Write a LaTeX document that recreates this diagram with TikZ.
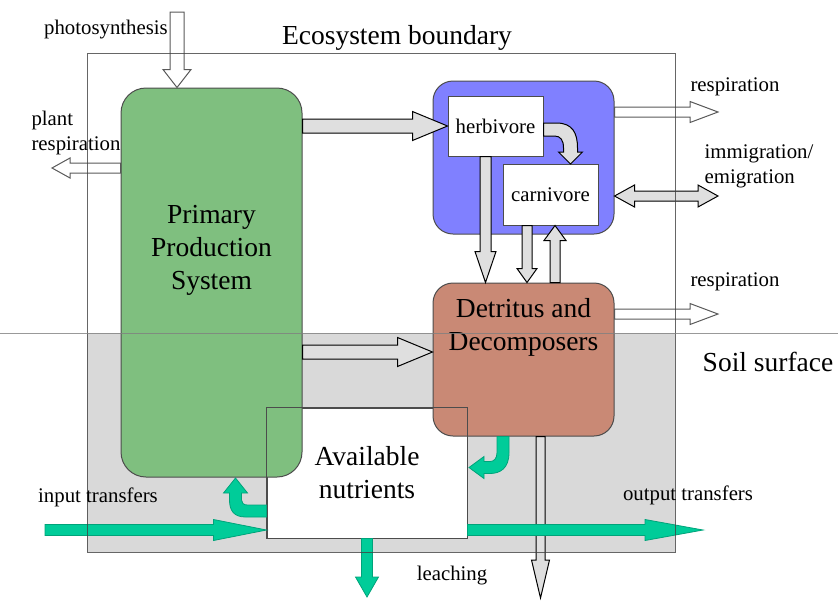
\documentclass[tikz,border=0pt]{standalone}
\usepackage{fontspec}
\setmainfont{Liberation Serif}
\usetikzlibrary{calc}

\definecolor{plantgreen}{RGB}{127,191,127}
\definecolor{consblue}{RGB}{128,128,255}
\definecolor{detbrown}{RGB}{201,137,117}
\definecolor{soilgrey}{RGB}{217,217,217}
\definecolor{flowteal}{RGB}{0,204,153}

\tikzset{
	fat/.style n args={3}{to path={
		let \p1=(\tikztostart), \p2=(\tikztotarget),
			\n1={atan2(\y2-\y1,\x2-\x1)} in
		($(\p1)+(\n1+90:#1)$) -- ($(\p2)+(\n1:-#3)+(\n1+90:#1)$)
		-- ($(\p2)+(\n1:-#3)+(\n1+90:#2)$) -- (\p2)
		-- ($(\p2)+(\n1:-#3)+(\n1-90:#2)$) -- ($(\p2)+(\n1:-#3)+(\n1-90:#1)$)
		-- ($(\p1)+(\n1-90:#1)$) -- cycle}},
	fatboth/.style n args={3}{to path={
		let \p1=(\tikztostart), \p2=(\tikztotarget),
			\n1={atan2(\y2-\y1,\x2-\x1)} in
		(\p1) -- ($(\p1)+(\n1:#3)+(\n1+90:#2)$) -- ($(\p1)+(\n1:#3)+(\n1+90:#1)$)
		-- ($(\p2)+(\n1:-#3)+(\n1+90:#1)$) -- ($(\p2)+(\n1:-#3)+(\n1+90:#2)$) -- (\p2)
		-- ($(\p2)+(\n1:-#3)+(\n1-90:#2)$) -- ($(\p2)+(\n1:-#3)+(\n1-90:#1)$)
		-- ($(\p1)+(\n1:#3)+(\n1-90:#1)$) -- ($(\p1)+(\n1:#3)+(\n1-90:#2)$) -- cycle}},
	greyarrow/.style={draw=black, line width=0.5pt, fill=gray!25},
	hollowarrow/.style={draw=gray!70!black, line width=0.5pt, fill=white},
	tealarrow/.style={draw=flowteal!80!black, line width=0.4pt, fill=flowteal},
	box/.style={draw=gray!60!black, line width=0.5pt, inner sep=0pt},
	bigtxt/.style={font=\fontsize{13.75}{16.5}\selectfont, align=center},
	smalltxt/.style={font=\fontsize{10.4}{12.5}\selectfont, align=left},
}

\begin{document}
\begin{tikzpicture}[x=0.5pt, y=-0.5pt]
			\useasboundingbox (0,0) rectangle (838,600);
			\fill[soilgrey] (87,333) rectangle (675,552);

			% compartments
			\node[box, fill=white, minimum width=100pt, minimum height=65pt, bigtxt] (nut) at (367,473) {Available\\nutrients};
			\node[box, fill=plantgreen, rounded corners=12.5pt, minimum width=90.5pt, minimum height=194.5pt] (pps) at (211.5,282.5) {};
			\node[bigtxt] (ppstxt) at (211.5,250) {Primary\\Production\\System};
			\node[box, fill=detbrown, rounded corners=10pt, minimum width=90.5pt, minimum height=76.5pt] (det) at (523.5,359.5) {};
			\node[bigtxt] (dettxt) at (523.5,327.5) {Detritus and\\Decomposers};
			\node[box, fill=consblue, rounded corners=10pt, minimum width=90.5pt, minimum height=76.5pt] (cons) at (523.5,157.5) {};
			\node[box, fill=white, minimum width=47.5pt, minimum height=30pt, smalltxt] (herb) at (495.5,126) {herbivore};
			\node[box, fill=white, minimum width=47.5pt, minimum height=30.5pt, smalltxt] (carn) at (550.5,194.5) {carnivore};
			\draw[gray!60!black, line width=0.5pt] (nut.south west) rectangle (nut.north east);

			\coordinate (sun) at (177,12);
			\coordinate (pr) at (52,168);
			\coordinate (r1) at (718,112);
			\coordinate (im) at (718,196);
			\coordinate (r2) at (718,314);
			\coordinate (pd) at (0,352);
			\coordinate (hd) at ([xshift=-5pt]herb.south);
			\coordinate (cd) at ([xshift=-11.75pt]carn.south);
			\coordinate (dc) at ([xshift=2.25pt]carn.south);
			\coordinate (in) at (45,530);
			\coordinate (out) at (703,530);
			\coordinate (leach) at (367,597);
			\coordinate (down) at (540.5,598);

			% flows
			\draw[hollowarrow] (sun) to[fat={3.5pt}{7pt}{9pt}] (sun |- pps.north);
			\draw[hollowarrow] (pps.west |- pr) to[fat={2.5pt}{5pt}{9pt}] (pr);
			\draw[greyarrow] (pps.east |- herb.west) to[fat={3.5pt}{7.25pt}{17.5pt}] (herb.west);
			\draw[greyarrow] (pps.east |- pd) to[fat={3.5pt}{7.25pt}{17.5pt}] (det.west |- pd);
			\draw[hollowarrow] (cons.east |- r1) to[fat={2.5pt}{5.25pt}{14pt}] (r1);
			\draw[hollowarrow] (det.east |- r2) to[fat={2.5pt}{5.25pt}{14pt}] (r2);
			\draw[greyarrow] (cons.east |- im) to[fatboth={2.5pt}{5.5pt}{10pt}] (im);
			\draw[greyarrow] (hd) to[fat={2.75pt}{5.25pt}{15.5pt}] (hd |- det.north);
			\draw[greyarrow] (cd) to[fat={2.5pt}{5pt}{7pt}] (cd |- det.north);
			\draw[greyarrow] (dc |- det.north) to[fat={2.5pt}{5.5pt}{7.5pt}] (dc);
			\draw[greyarrow, shift={(herb.east)}] (0,-3) -- (13,-3) .. controls (29,-3) and (34,7) .. (34,22) -- (34,26) -- (39,26) -- (27,38) -- (15,26) -- (20,26) -- (20,22) .. controls (20,14) and (17,10) .. (11,10) -- (0,10) -- cycle;
			\draw[greyarrow] (det.south -| down) to[fat={2.25pt}{4.5pt}{19pt}] (down);
			\draw[tealarrow] (in) to[fat={2.75pt}{5.25pt}{26.5pt}] (nut.west |- in);
			\draw[tealarrow] (nut.east |- out) to[fat={2.75pt}{5.25pt}{29pt}] (out);
			\draw[tealarrow] (nut.south) to[fat={2.75pt}{5.75pt}{10pt}] (leach);
			\draw[tealarrow, shift={(det.south)}] (-14.5,0) -- (-14.5,16) .. controls (-14.5,32) and (-23.5,37) .. (-33.5,37) -- (-39.5,37) -- (-39.5,42) -- (-54.5,31) -- (-39.5,20) -- (-39.5,25) -- (-33.5,25) .. controls (-29.5,25) and (-26.5,22) .. (-26.5,16) -- (-26.5,0) -- cycle;
			\draw[tealarrow, shift={(nut.west)}] (0,44) -- (-21,44) .. controls (-33,44) and (-37,37) .. (-37,27) -- (-37,20) -- (-43,20) -- (-31,5) -- (-19,20) -- (-25,20) -- (-25,27) .. controls (-25,30) and (-23,32) .. (-19,32) -- (0,32) -- cycle;

			% boundary and soil surface
			\draw[gray!50!black, line width=0.5pt, draw opacity=0.8] (87,53) rectangle (675,552);
			\draw[gray, line width=0.5pt, draw opacity=0.8] (0,333) -- (838,333);

			% labels
			\node[bigtxt] (ecolbl) at (397,38) {Ecosystem boundary};
			\node[bigtxt] (soillbl) at (768,362) {Soil surface};
			\node[smalltxt] (photolbl) at (106,30) {photosynthesis};
			\node[smalltxt] (prlbl) at (76,133) {plant\\respiration};
			\node[smalltxt] (r1lbl) at (735,87) {respiration};
			\node[smalltxt] (r2lbl) at (735,282) {respiration};
			\node[smalltxt] (imlbl) at (759,166) {immigration/\\emigration};
			\node[smalltxt] (inlbl) at (98,497) {input transfers};
			\node[smalltxt] (outlbl) at (688,495) {output transfers};
			\node[smalltxt] (leachlbl) at (452,576) {leaching};
\end{tikzpicture}
\end{document}
